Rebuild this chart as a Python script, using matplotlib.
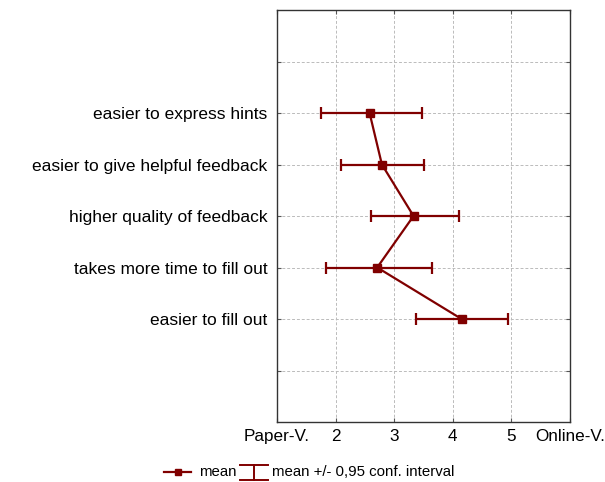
import matplotlib
matplotlib.use("Agg")
import matplotlib.pyplot as plt
from matplotlib.lines import Line2D

plt.rcParams['font.family'] = ['Liberation Sans', 'DejaVu Sans']

categories = ["easier to express hints", "easier to give helpful feedback",
              "higher quality of feedback", "takes more time to fill out",
              "easier to fill out"]
means = [2.58, 2.79, 3.33, 2.71, 4.15]
ci_low = [1.75, 2.09, 2.60, 1.84, 3.38]
ci_high = [3.47, 3.50, 4.11, 3.64, 4.95]
x_ticks = [1, 2, 3, 4, 5, 6]
x_tick_labels = ["Paper-V.", "2", "3", "4", "5", "Online-V."]

color = "#800000"

fig = plt.figure(figsize=(6.05, 4.82), dpi=100)
ax = fig.add_axes([277/605, 1-422/482, (570-277)/605, (422-10)/482])

ypos = [2, 3, 4, 5, 6]
xerr = [[m - lo for m, lo in zip(means, ci_low)],
        [hi - m for m, hi in zip(means, ci_high)]]
ax.errorbar(means, ypos, xerr=xerr, fmt='s-', color=color, ecolor=color,
            markersize=5.5, linewidth=1.6, elinewidth=1.6, capsize=4.5,
            capthick=1.6, zorder=3)

ax.set_xlim(1, 6)
ax.set_ylim(8, 0)
ax.set_xticks(x_ticks)
ax.set_xticklabels(x_tick_labels, fontsize=12.3)
ax.set_yticks(range(1, 8))
ax.set_yticklabels([""] + categories + [""], fontsize=12.5)
ax.grid(True, color="#bbbbbb", linestyle=(0, (3, 2)), linewidth=0.7)
ax.tick_params(axis='both', direction='in', length=3, width=0.8,
               top=True, right=True, colors='#555555', labelcolor='black')
ax.tick_params(axis='x', pad=5)
ax.tick_params(axis='y', pad=7)
for s in ax.spines.values():
    s.set_linewidth(1.0)
    s.set_color('#333333')

# legend
fy = 1 - 472/482
fig.add_artist(Line2D([164/605, 191/605], [fy, fy], color=color, lw=1.6,
                      transform=fig.transFigure))
fig.add_artist(Line2D([177.5/605], [fy], marker='s', color=color, markersize=4.5,
                      transform=fig.transFigure))
fig.text(199/605, fy, "mean", fontsize=10.8, va='center', ha='left')
cx = 254/605
fig.add_artist(Line2D([240/605, 268/605], [1-465/482, 1-465/482], color=color,
                      lw=1.4, transform=fig.transFigure))
fig.add_artist(Line2D([240/605, 268/605], [1-480/482, 1-480/482], color=color,
                      lw=1.4, transform=fig.transFigure))
fig.add_artist(Line2D([cx, cx], [1-465/482, 1-480/482], color=color,
                      lw=1.4, transform=fig.transFigure))
fig.text(272/605, fy, "mean +/- 0,95 conf. interval", fontsize=10.8,
         va='center', ha='left')

fig.savefig("out.png", dpi=100)
